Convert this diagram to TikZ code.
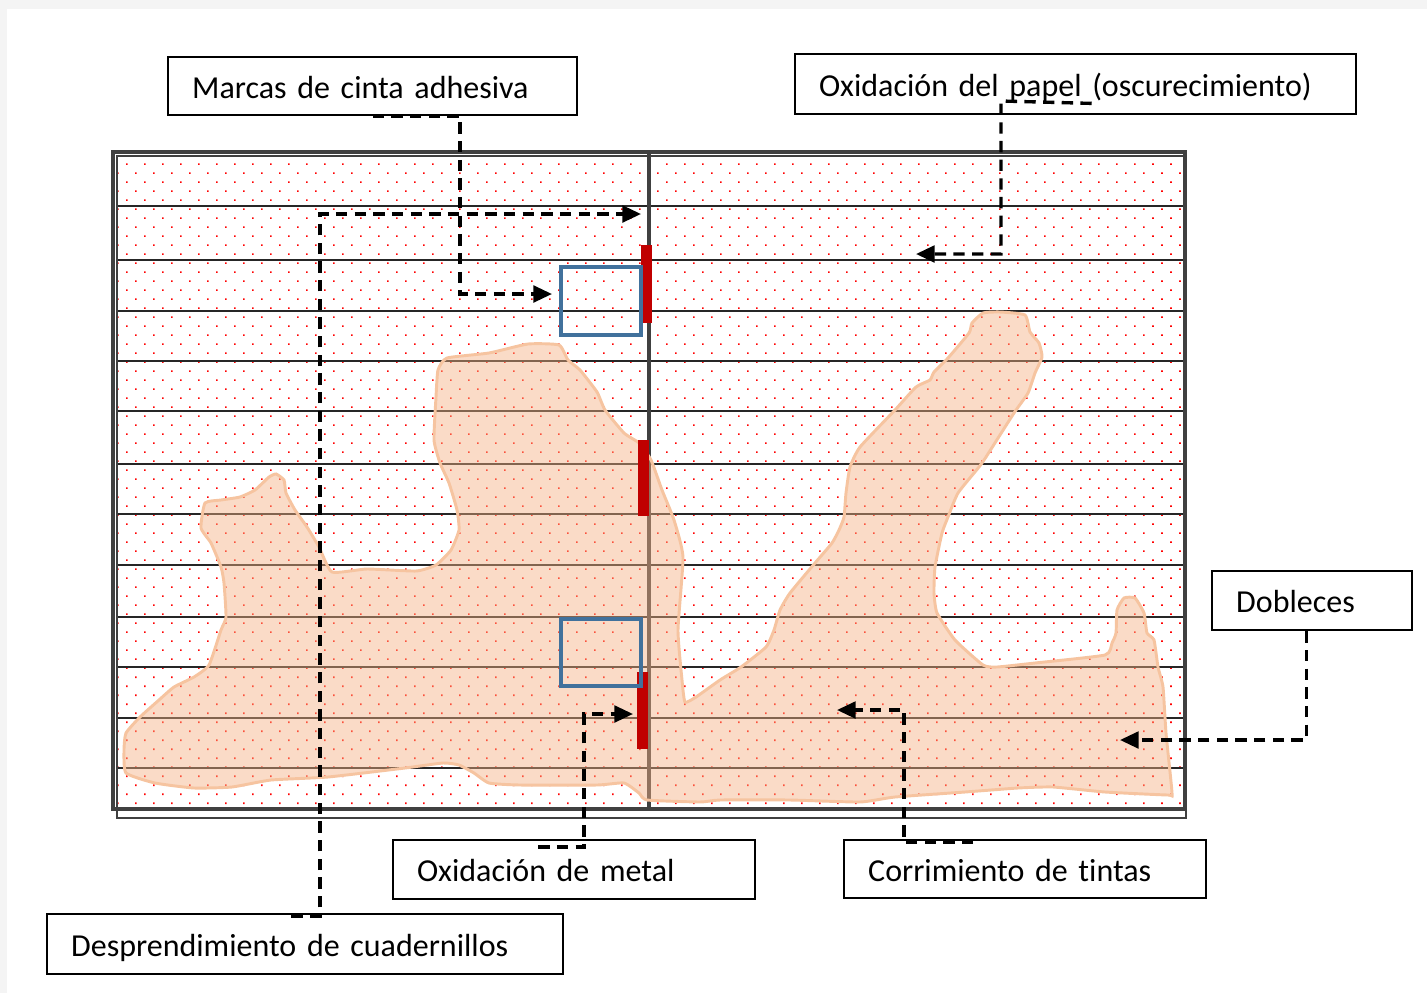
\documentclass[tikz,border=0pt]{standalone}
\usepackage{fontspec}
\setmainfont{Carlito}[Ligatures=NoCommon]
\usepackage{xcolor}
\usepackage{tikz}
\usetikzlibrary{arrows.meta,patterns,calc}

\definecolor{pagegray}{HTML}{F4F4F4}
\definecolor{framegray}{HTML}{404040}
\definecolor{blobfill}{HTML}{F4B183}
\definecolor{blobline}{HTML}{F6C4A0}
\definecolor{tapeblue}{HTML}{41719C}
\definecolor{rustred}{HTML}{C00000}

\pgfdeclarepatternformonly{reddots}{\pgfqpoint{-1pt}{-1pt}}{\pgfqpoint{14pt}{14pt}}{\pgfqpoint{13.5pt}{13.5pt}}{%
  \pgfpathrectangle{\pgfqpoint{0pt}{0pt}}{\pgfqpoint{1.3pt}{1.3pt}}%
  \pgfpathrectangle{\pgfqpoint{6.75pt}{6.75pt}}{\pgfqpoint{1.3pt}{1.3pt}}%
  \pgfusepath{fill}}

\tikzset{
  lbl/.style={draw, line width=1.8pt, anchor=north west, align=left, inner xsep=18pt, inner ysep=0pt,
    text height=18pt, text depth=0pt, font=\fontsize{24}{29}\selectfont},
  conn/.style={dash pattern=on 8.5pt off 5.5pt, line width=2.5pt, -{Triangle[length=14pt,width=12.5pt]}},
  blob/.style={fill=blobfill, fill opacity=0.45, draw=blobline, line width=2.2pt},
  tapebox/.style={draw=tapeblue, line width=2.3pt},
  rustbar/.style={fill=rustred}
}

\begin{document}
\begin{tikzpicture}[x=0.75pt,y=0.75pt,yscale=-1,xscale=1]
\useasboundingbox (0,0) rectangle (1427,993);
\fill[pagegray] (0,0) rectangle (1427,993);
\fill[white] (7,9) rectangle (1427,993);

% page with ruled lines
\fill[pattern=reddots, pattern color=red] (117,156) rectangle (1183,808);
\foreach \y in {206,260,311,361,411,464,514,565,617,667,718,768}
  \draw[line width=1.1pt, black!85] (117,\y) -- (1183,\y);
\draw[line width=2.4pt, framegray] (649,152) -- (649,810);

% stain
\filldraw[blob] plot[smooth cycle, tension=0.3] coordinates {
 (124,750) (126,733) (140,717) (159,700) (174,687) (194,677) (209,665) (221,630) (226,617) (224,583)
 (221,567) (211,543) (201,528) (205,503) (221,500) (240,497) (255,490) (269,477) (276,474) (284,480)
 (286,493) (295,510) (307,527) (319,547) (332,572) (367,569) (416,571) (436,565) (451,550) (459,530)
 (457,510) (449,483) (440,463) (434,440) (436,397) (438,370) (447,358) (489,353) (528,344) (559,345)
 (568,360) (580,370) (597,392) (605,410) (624,433) (639,443) (651,460) (662,490) (674,520) (683,557)
 (678,630) (682,680) (685,702) (696,697) (720,680) (741,667) (766,647) (774,630) (780,610) (790,593)
 (815,563) (832,543) (839,530) (844,517) (846,493) (850,467) (860,447) (895,410) (916,387) (930,380)
 (934,372) (948,358) (969,333) (972,323) (983,313) (1000,312) (1025,315) (1030,332) (1039,343) (1042,357)
 (1035,373) (1028,393) (1014,413) (986,457) (979,467) (958,493) (948,517) (942,533) (935,567) (934,593)
 (937,613) (955,640) (983,665) (997,667) (1035,663) (1105,655) (1112,643) (1116,633) (1117,610) (1124,598)
 (1135,598) (1144,613) (1147,633) (1154,640) (1158,667) (1163,687) (1166,733) (1172,793) (1168,795) (1105,792)
 (1053,787) (1018,788) (965,792) (895,797) (860,802) (790,800) (720,800) (700,802) (647,800) (639,793)
 (624,783) (597,785) (520,785) (489,783) (474,773) (459,765) (443,763) (405,768) (328,777) (271,780)
 (232,787) (194,788) (155,783) (126,773)};

% frame
\draw[line width=1pt, framegray] (117,156) rectangle (1186,818);
\draw[line width=3pt, framegray] (113,152) rectangle (1185,809);

% damage marks
\fill[rustbar] (641,245) rectangle (652,323);
\fill[rustbar] (638,440) rectangle (649,516);
\fill[rustbar] (637,672) rectangle (648,749);
\draw[tapebox] (561,267) rectangle (641,335);
\draw[tapebox] (561,619) rectangle (641,686);

% labels
\node[lbl, text width=270.75pt, minimum height=43.5pt] (marcas) at (167,56) {Marcas de cinta adhesiva};
\node[lbl, text width=384.75pt, minimum height=45pt] (papel) at (794,53) {Oxidación del papel (oscurecimiento)};
\node[lbl, text width=114pt, minimum height=44.25pt] (dobleces) at (1211,570) {Dobleces};
\node[lbl, text width=235.5pt, minimum height=43.5pt] (tintas) at (843,839) {Corrimiento de tintas};
\node[lbl, text width=235.5pt, minimum height=44.25pt] (metal) at (392,839) {Oxidación de metal};
\node[lbl, text width=351pt, minimum height=45pt] (cuad) at (46,913) {Desprendimiento de cuadernillos};

\coordinate (tape) at (552,294);
\coordinate (detach) at (641,214);
\coordinate (darken) at (916,254);
\coordinate (rust) at (633,714);
\coordinate (ink) at (837,710);
\coordinate (fold) at (1120,740);

% pointers
\draw[conn] (marcas.south) -| (460,294) -- (tape);
\draw[conn] ($(papel.south)+(16,-12)$) -- (1001,101) |- (darken);
\draw[conn] ($(cuad.north)+(-14,3)$) -- (320,916) |- (detach);
\draw[conn] ($(metal.north)+(-36,8)$) -- (584,847) |- (rust);
\draw[conn] ($(tintas.north)+(-52,3)$) -- (904,842) |- (ink);
\draw[conn] ($(dobleces.south)+(-6,0)$) |- (fold);
\end{tikzpicture}
\end{document}
